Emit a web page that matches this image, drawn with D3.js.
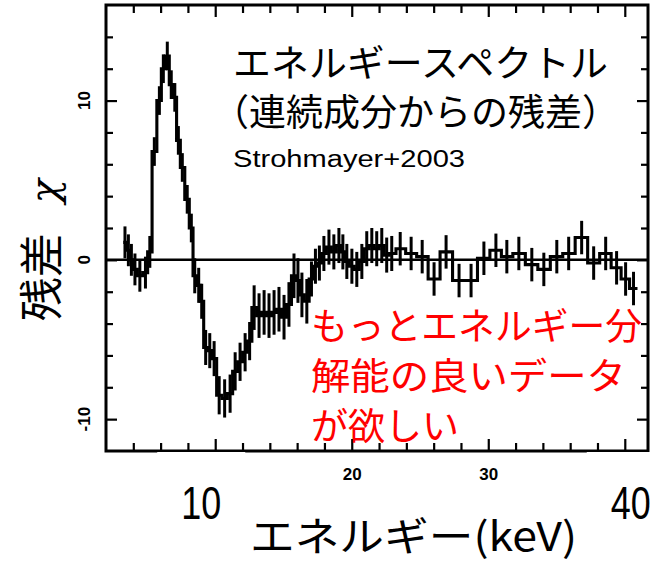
<!DOCTYPE html>
<html>
<head>
<meta charset="utf-8">
<script src="https://cdn.jsdelivr.net/npm/d3@7"></script>
<style>
  html, body { margin: 0; padding: 0; background: #fff; }
  svg { display: block; }
</style>
</head>
<body>
<svg id="chart" width="663" height="563"></svg>
<script>
// Residuals (chi) from the continuum fit, binned in energy (keV)
const energy = [
  3.39, 3.64, 3.86, 4.12, 4.48, 4.89, 5.21, 5.54, 5.91, 6.20, 6.49, 6.78, 7.04, 7.30, 7.59, 7.95, 8.25,
  8.50, 8.79, 9.01, 9.30, 9.60, 9.92, 10.29, 10.69, 11.09, 11.46, 11.82, 12.19, 12.52,
  12.85, 13.21, 13.58, 13.94, 14.31, 14.67, 15.04, 15.40, 15.77, 16.06,
  16.35, 16.71, 17.05, 17.34, 17.63, 17.96, 18.33, 18.69, 19.06, 19.35, 19.64, 20.01, 20.37, 20.74,
  21.10, 21.47, 21.83, 22.20, 22.56, 22.93,
  23.55, 24.35, 25.16, 26.03, 26.91, 27.86, 28.74, 29.68, 30.56, 31.36, 32.24, 33.19, 34.07, 35.02,
  35.89, 36.84, 37.72, 38.60, 39.40, 40.06, 40.64
];
const resid = [
  1.1, 0.6, 0.0, -0.6, -1.0, -0.8, 0.5, 6.8, 10.0, 12.0, 12.8, 11.0, 10.2, 7.5, 5.8, 3.8, 2.0,
  -1.0, -1.6, -2.6, -5.5, -5.7, -6.2, -8.5, -8.7, -8.4, -7.0, -6.4, -5.8, -5.1,
  -3.0, -3.5, -3.3, -3.5, -3.3, -3.1, -3.6, -2.8, -1.0, -1.3,
  -2.2, -2.6, -1.2, -0.4, -0.2, 0.4, 0.8, 0.5, 0.9, 0.5, -0.1, -0.4, -0.6, -0.1,
  0.7, 0.9, 0.7, 0.9, 0.3, 0.4,
  0.7, 0.4, 0.2, -1.2, 0.5, -1.3, -1.3, 0.1, 0.6, 0.2, 0.4, -0.3, -0.6, 0.2,
  0.4, 1.4, -0.2, 0.4, -0.5, -1.2, -1.8
];
const sigma = [
  1.0, 1.0, 1.0, 1.0, 1.0, 1.0, 1.0, 0.9, 0.9, 0.9, 0.9, 0.9, 0.9, 0.9, 0.9, 0.9, 0.9,
  1.1, 1.1, 1.1, 1.1, 1.1, 1.1, 1.2, 1.2, 1.2, 1.2, 1.2, 1.2, 1.2,
  1.4, 1.4, 1.4, 1.4, 1.4, 1.4, 1.4, 1.4, 1.4, 1.4,
  1.4, 1.4, 1.1, 1.1, 1.1, 1.1, 1.1, 1.1, 1.1, 1.1, 1.1, 1.1, 1.1, 1.1,
  1.1, 1.1, 1.1, 1.1, 1.1, 1.1,
  1.05, 1.05, 1.05, 1.05, 1.05, 1.05, 1.05, 1.05, 1.05, 1.05, 1.05, 1.05, 1.05, 1.05,
  1.05, 1.05, 1.05, 1.05, 1.05, 1.05, 1.05
];

// Axis ticks and labels
const xTicks = [4, 6, 8, 10, 12, 14, 16, 18, 20, 22, 24, 26, 28, 30, 32, 34, 36, 38, 40];
const xMajorTicks = [10, 20, 30, 40];
const xTickLabels = [20, 30];
const xBigLabels = [10, 40];
const yTicks = [-10, -8, -6, -4, -2, 0, 2, 4, 6, 8, 10, 12, 14];
const yMajorTicks = [-10, 0, 10];
const yTickLabels = [-10, 0, 10];

const titleLines = ["エネルギースペクトル", "（連続成分からの残差）"];
const sourceNote = "Strohmayer+2003";
const commentLines = ["もっとエネルギー分", "解能の良いデータ", "が欲しい"];
const xTitle = "エネルギー(keV)";
const yTitle = "残差";
const yTitleSymbol = "χ";

const svg = d3.select("#chart");
const frame = { left: 106, top: 5, right: 648, bottom: 451 };

const x = d3.scaleLinear().domain([2, 41.7]).range([frame.left, frame.right]);
const y = d3.scaleLinear().domain([-12, 16]).range([frame.bottom, frame.top]);

const jp = "'Noto Sans CJK JP', 'Noto Sans', sans-serif";
const latin = "'Liberation Sans', Arial, sans-serif";

// zero reference line
svg.append("line")
  .attr("x1", frame.left).attr("x2", frame.right)
  .attr("y1", y(0)).attr("y2", y(0))
  .attr("stroke", "#000").attr("stroke-width", 2.5);

// step histogram: bin edges halfway between neighbouring centres
const edges = energy.map((c, i) => {
  const lo = i === 0 ? c - (energy[1] - c) / 2 : (energy[i - 1] + c) / 2;
  const hi = i === energy.length - 1 ? c + (c - energy[i - 1]) / 2 : (c + energy[i + 1]) / 2;
  return [lo, hi];
});
const stepPts = [];
resid.forEach((v, i) => {
  stepPts.push([x(edges[i][0]), y(v)]);
  stepPts.push([x(edges[i][1]), y(v)]);
});
svg.append("path")
  .attr("d", d3.line()(stepPts))
  .attr("fill", "none").attr("stroke", "#000")
  .attr("stroke-width", 3.1).attr("stroke-linejoin", "miter");

// error bars
svg.append("g").selectAll("line").data(energy).join("line")
  .attr("x1", d => x(d)).attr("x2", d => x(d))
  .attr("y1", (d, i) => y(resid[i] - sigma[i]))
  .attr("y2", (d, i) => y(resid[i] + sigma[i]))
  .attr("stroke", "#000").attr("stroke-width", 3);

// frame ticks, all pointing inward
function inwardAxis(gen, tr, vals, size) {
  const g = svg.append("g").attr("transform", tr)
    .call(gen.tickValues(vals).tickSize(-size).tickFormat(""));
  g.select(".domain").remove();
  g.selectAll(".tick line").attr("stroke", "#000").attr("stroke-width", 2.2);
  return g;
}
const xMinor = xTicks.filter(t => !xMajorTicks.includes(t));
const yMinor = yTicks.filter(t => !yMajorTicks.includes(t));
inwardAxis(d3.axisBottom(x), `translate(0,${frame.bottom})`, xMinor, 8);
inwardAxis(d3.axisBottom(x), `translate(0,${frame.bottom})`, xMajorTicks, 12);
inwardAxis(d3.axisTop(x), `translate(0,${frame.top})`, xMinor, 8);
inwardAxis(d3.axisTop(x), `translate(0,${frame.top})`, xMajorTicks, 12);
inwardAxis(d3.axisLeft(y), `translate(${frame.left},0)`, yMinor, 7);
inwardAxis(d3.axisLeft(y), `translate(${frame.left},0)`, yMajorTicks, 11);
inwardAxis(d3.axisRight(y), `translate(${frame.right},0)`, yMinor, 7);
inwardAxis(d3.axisRight(y), `translate(${frame.right},0)`, yMajorTicks, 11);

// plot frame
svg.append("rect")
  .attr("x", frame.left).attr("y", frame.top)
  .attr("width", frame.right - frame.left).attr("height", frame.bottom - frame.top)
  .attr("fill", "none").attr("stroke", "#000").attr("stroke-width", 3);

// small bold tick labels
const xl = svg.append("g").attr("transform", `translate(0,${frame.bottom})`)
  .call(d3.axisBottom(x).tickValues(xTickLabels).tickSize(0).tickPadding(17).tickFormat(d3.format("d")));
xl.select(".domain").remove();
xl.selectAll("text").attr("font-family", latin).attr("font-weight", "bold")
  .attr("font-size", 17).attr("fill", "#000");

svg.append("g").selectAll("text").data(yTickLabels).join("text")
  .attr("transform", d => `translate(90,${y(d)}) rotate(-90)`)
  .attr("text-anchor", "middle")
  .attr("font-family", latin).attr("font-weight", "bold").attr("font-size", 17)
  .text(d => d3.format("d")(d).replace("−", "-"));

// large energy labels on white boxes
xBigLabels.forEach(v => {
  const cx = v === 10 ? x(v) - 14 : x(v) + 6;
  svg.append("rect").attr("x", cx - 44).attr("y", frame.bottom + 1)
    .attr("width", 88).attr("height", 66).attr("fill", "#fff");
  svg.append("text")
    .attr("x", cx).attr("y", 519).attr("text-anchor", "middle")
    .attr("font-family", latin).attr("font-size", 46)
    .attr("textLength", 40).attr("lengthAdjust", "spacingAndGlyphs")
    .text(v);
});

// axis titles
svg.append("text")
  .attr("x", 250).attr("y", 551)
  .attr("font-family", jp).attr("font-size", 40)
  .attr("textLength", 327).attr("lengthAdjust", "spacingAndGlyphs")
  .text(xTitle);

const yt = svg.append("text")
  .attr("transform", "translate(58,250) rotate(-90)")
  .attr("text-anchor", "middle")
  .attr("font-family", jp).attr("font-size", 44);
yt.append("tspan").text(yTitle);
yt.append("tspan").attr("dx", 30).attr("font-style", "italic")
  .attr("font-family", "'DejaVu Serif', serif").attr("font-size", 40).text(yTitleSymbol);

// title block
svg.append("text").attr("x", 233).attr("y", 77)
  .attr("font-family", jp).attr("font-size", 37)
  .attr("textLength", 375).attr("lengthAdjust", "spacingAndGlyphs")
  .text(titleLines[0]);
svg.append("text").attr("x", 212).attr("y", 126)
  .attr("font-family", jp).attr("font-size", 37)
  .text(titleLines[1]);
svg.append("text").attr("x", 233).attr("y", 167)
  .attr("font-family", latin).attr("font-size", 23)
  .attr("textLength", 232).attr("lengthAdjust", "spacingAndGlyphs")
  .text(sourceNote);

// red comment
const commentWidths = [331, 315, 148];
const commentBase = [340, 390, 440];
commentLines.forEach((t, i) => {
  svg.append("text").attr("x", 311).attr("y", commentBase[i])
    .attr("font-family", jp).attr("font-size", 37).attr("fill", "#ff0000")
    .attr("textLength", commentWidths[i]).attr("lengthAdjust", "spacingAndGlyphs")
    .text(t);
});
</script>
</body>
</html>
